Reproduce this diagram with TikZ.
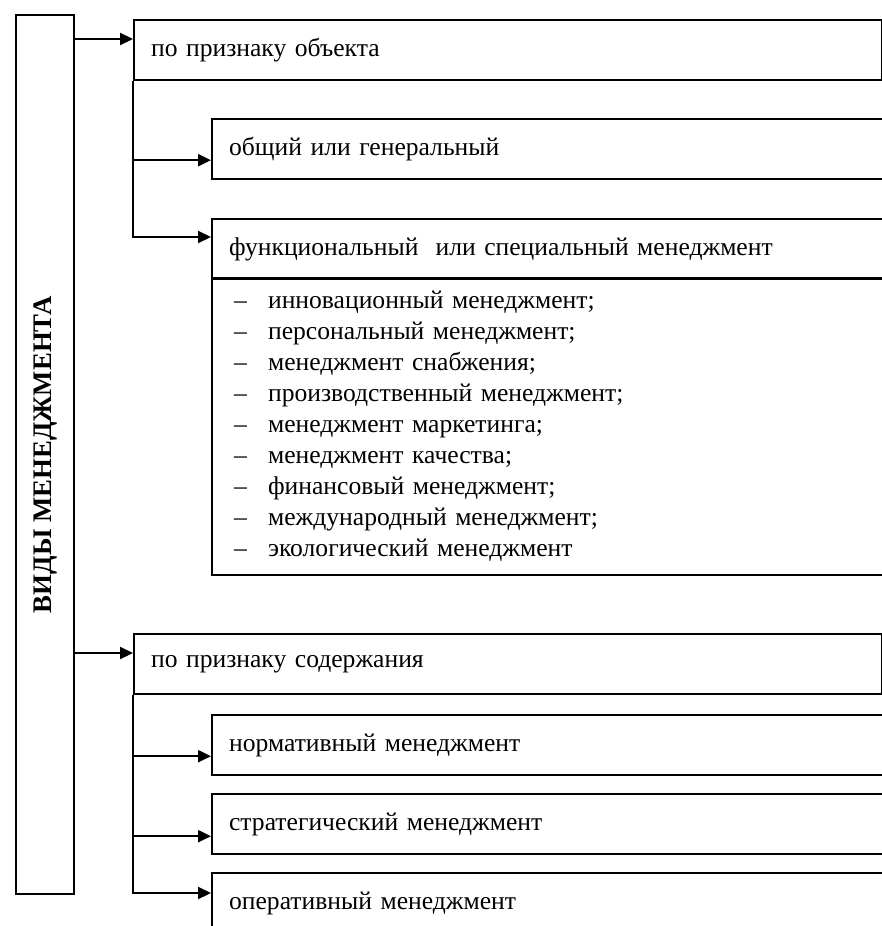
\documentclass[tikz,border=0pt]{standalone}
\usepackage{fontspec}
\setmainfont{Liberation Serif}
\usetikzlibrary{arrows.meta, positioning, calc}

\newcommand\itm[1]{\makebox[17pt][l]{--}#1}

\begin{document}
\begin{tikzpicture}[
    x=0.5pt, y=-0.5pt,
    every node/.style={font=\fontsize{12.8}{15.5}\selectfont, align=left},
    widebox/.style={rectangle, draw=black, line width=1.1pt, anchor=north west,
                    inner xsep=8.5pt, text width=357pt, minimum height=30pt},
    smallbox/.style={rectangle, draw=black, line width=1.1pt, anchor=north west,
                     inner xsep=8.5pt, text width=318.5pt, minimum height=30pt},
    arrow/.style={-{Triangle[length=6.5pt, width=6pt]}, line width=1.1pt}
]
\useasboundingbox (0,0) rectangle (882,926);
\fill[white] (0,0) rectangle (882,926);
\clip (0,0) rectangle (882,926);

% --- Left title box ---
\node[draw=black, line width=1.1pt, anchor=north west, align=center,
      minimum width=29pt, minimum height=439.5pt] (vid) at (15,14)
      {\rotatebox{90}{\fontsize{13.4}{15}\selectfont\bfseries ВИДЫ МЕНЕДЖМЕНТА}};

% --- By object ---
\node[widebox] (obj) at (133,19) {по признаку объекта};
\node[smallbox] (gen) at (211,118) {общий или генеральный};
\node[smallbox] (funchead) at (211,218) {функциональный\ \ или специальный менеджмент};
\node[smallbox, minimum height=148.5pt, inner xsep=11pt, text width=313.5pt] (funclist) at (211,277)
  {\itm{инновационный менеджмент;}\\
   \itm{персональный менеджмент;}\\
   \itm{менеджмент снабжения;}\\
   \itm{производственный менеджмент;}\\
   \itm{менеджмент маркетинга;}\\
   \itm{менеджмент качества;}\\
   \itm{финансовый менеджмент;}\\
   \itm{международный менеджмент;}\\
   \itm{экологический менеджмент}};

% --- By content ---
\node[widebox] (cont) at (133,633) {по признаку содержания};
\node[smallbox] (norm) at (211,714) {нормативный менеджмент};
\node[smallbox] (strat) at (211,793) {стратегический менеджмент};
\node[smallbox] (oper) at (211,872) {оперативный менеджмент};

% --- Arrow entry points ---
\coordinate (objin) at ($(obj.north west)+(0,20)$);
\coordinate (contin) at ($(cont.north west)+(0,20)$);
\coordinate (genin) at ($(gen.south west)+(0,-20)$);
\coordinate (funcin) at ($(funchead.north west)+(0,19)$);
\coordinate (normin) at ($(norm.south west)+(0,-20)$);
\coordinate (stratin) at ($(strat.south west)+(0,-19)$);
\coordinate (operin) at ($(oper.north west)+(0,21)$);

% --- Arrows ---
\draw[arrow] (vid.east |- objin) -- (objin);
\draw[arrow] (vid.east |- contin) -- (contin);
\draw[arrow] (obj.south west) |- (genin);
\draw[arrow] (obj.south west) |- (funcin);
\draw[arrow] (cont.south west) |- (normin);
\draw[arrow] (cont.south west) |- (stratin);
\draw[arrow] (cont.south west) |- (operin);

\end{tikzpicture}
\end{document}
